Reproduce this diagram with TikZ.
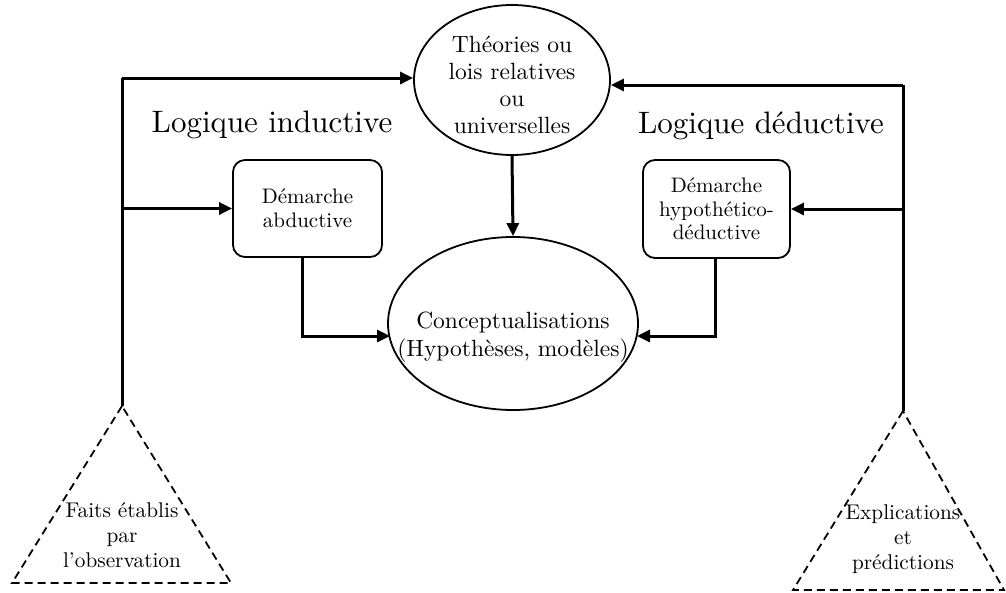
\documentclass[tikz,border=0pt]{standalone}
\usepackage{fontspec}
\setmainfont{lmroman10-regular.otf}[BoldFont=lmroman10-bold.otf,ItalicFont=lmroman10-italic.otf]
\usetikzlibrary{arrows.meta,shapes.geometric}
\begin{document}
\begin{tikzpicture}[x=1pt,y=-1pt,
  conn/.style={line width=3pt,-{Triangle[length=13pt,width=12pt]}},
  plain/.style={line width=3pt},
  ell/.style={ellipse,draw,line width=1.8pt,inner sep=0pt,align=center},
  rbox/.style={draw,line width=1.8pt,rounded corners=12pt,inner sep=0pt,align=center},
  dashline/.style={line width=1.8pt,dash pattern=on 8pt off 5pt},
  ttl/.style={font=\fontsize{31}{36}\selectfont},
  big/.style={font=\fontsize{23.5}{27}\selectfont,align=center},
  med/.style={font=\fontsize{21}{23.5}\selectfont,align=center},
  tri/.style={font=\fontsize{21.3}{25}\selectfont,align=center}]
\useasboundingbox (0,0) rectangle (1006,592);
% ellipses
\node[ell,minimum width=196pt,minimum height=150pt] (theo) at (512,80) {};
\node[big] (theotxt) at (512,85) {Théories ou\\lois relatives\\ou\\universelles};
\node[ell,minimum width=250pt,minimum height=173pt] (concept) at (513,323.5) {};
\node[big,font=\fontsize{23.5}{28}\selectfont] (concepttxt) at (513,337) {Conceptualisations\\(Hypothèses, modèles)};
% boxes
\node[rbox,minimum width=149pt,minimum height=97pt,med] (abd) at (307.5,208.5) {Démarche\\abductive};
\node[rbox,minimum width=147pt,minimum height=98pt,med] (hyp) at (716.5,209) {Démarche\\hypothético-\\déductive};
% titles
\node[ttl] (lind) at (272,125) {Logique inductive};
\node[ttl] (lded) at (761,126) {Logique déductive};
% triangles
\coordinate (apexL) at (122,406);
\coordinate (apexR) at (903,411);
\draw[dashline] (apexL) -- (12,583) -- (231,583) -- cycle;
\draw[dashline] (apexR) -- (793,590) -- (1004,590) -- cycle;
\node[tri] (fait) at (122,535) {Faits établis\\par\\l’observation};
\node[tri] (expl) at (903,539) {Explications\\et\\prédictions};
% corner coordinates
\coordinate (LT) at (122,78);
\coordinate (LM) at (122,208.5);
\coordinate (RT) at (903,85);
\coordinate (RM) at (903,209);
% connectors
\draw[plain] (apexL) -- (LT);
\draw[conn] (LT) -- (LT -| theo.west);
\draw[conn] (LM) -- (abd.west);
\draw[plain] (apexR) -- (RT);
\draw[conn] (RT) -- (RT -| theo.east);
\draw[conn] (RM) -- (hyp.east);
\draw[conn] (theo.south) -- (concept.north);
\coordinate (aB) at (302,257);
\coordinate (hB) at (715,258);
\coordinate (cL) at (390,336);
\coordinate (cR) at (637,336);
\draw[conn] (aB) |- (cL);
\draw[conn] (hB) |- (cR);
\end{tikzpicture}
\end{document}
